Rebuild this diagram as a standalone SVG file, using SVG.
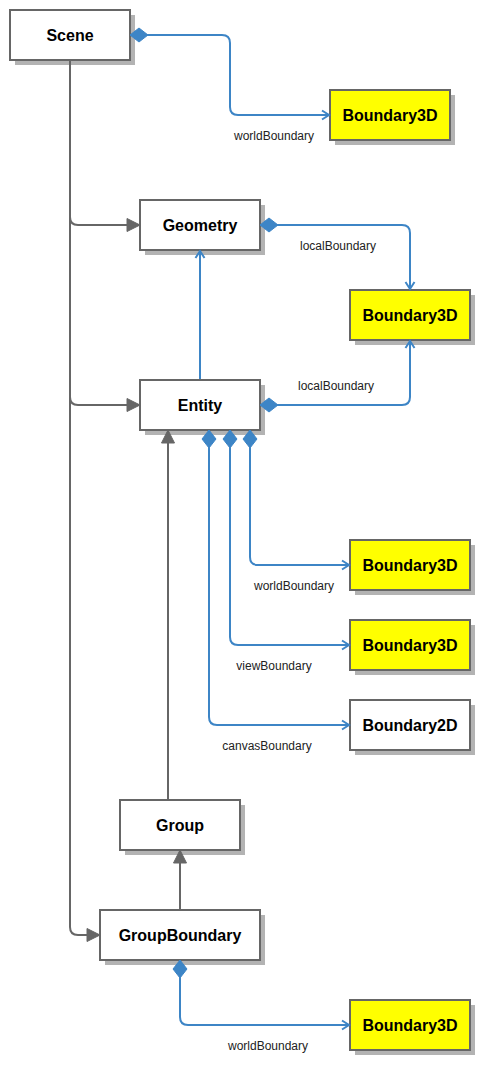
<svg xmlns="http://www.w3.org/2000/svg" width="490" height="1075" viewBox="0 0 490 1075">
<style>
.box{stroke:#666666;stroke-width:2}
.w{fill:#ffffff}
.y{fill:#ffff00}
.sh{fill:#b3b3b3}
.t{font-family:"Liberation Sans",Arial,sans-serif;font-size:16px;font-weight:bold;fill:#000;text-anchor:middle}
.l{font-family:"Liberation Sans",Arial,sans-serif;font-size:12px;fill:#222;text-anchor:middle}
.b{fill:none;stroke:#3d85c6;stroke-width:2}
.g{fill:none;stroke:#666666;stroke-width:2}
.bd{marker-start:url(#dia)}
.bo{marker-end:url(#open)}
.gt{marker-end:url(#tri)}
</style>
<defs>
<marker id="dia" markerUnits="userSpaceOnUse" overflow="visible" markerWidth="20" markerHeight="16" refX="0" refY="0" orient="auto">
<path d="M0,0 L9,-7 L18,0 L9,7 Z" fill="#3d85c6" stroke="#3d85c6" stroke-width="1"/>
</marker>
<marker id="open" markerUnits="userSpaceOnUse" overflow="visible" markerWidth="12" markerHeight="12" refX="0" refY="0" orient="auto">
<path d="M-7,-4.5 L0,0 L-7,4.5" fill="none" stroke="#3d85c6" stroke-width="2"/>
</marker>
<marker id="tri" markerUnits="userSpaceOnUse" overflow="visible" markerWidth="16" markerHeight="16" refX="0" refY="0" orient="auto">
<path d="M-13,-6.5 L0,0 L-13,6.5 Z" fill="#666666" stroke="#666666" stroke-width="1"/>
</marker>
</defs>
<g id="scene"><rect class="sh" x="15" y="15" width="120" height="50"/><rect class="box w" x="10" y="10" width="120" height="50"/><text class="t" x="70" y="41">Scene</text></g>
<g id="b3d-world-scene"><rect class="sh" x="335" y="95" width="120" height="50"/><rect class="box y" x="330" y="90" width="120" height="50"/><text class="t" x="390" y="121">Boundary3D</text></g>
<g id="geometry"><rect class="sh" x="145" y="205" width="120" height="50"/><rect class="box w" x="140" y="200" width="120" height="50"/><text class="t" x="200" y="231">Geometry</text></g>
<g id="b3d-local"><rect class="sh" x="355" y="295" width="120" height="50"/><rect class="box y" x="350" y="290" width="120" height="50"/><text class="t" x="410" y="321">Boundary3D</text></g>
<g id="entity"><rect class="sh" x="145" y="385" width="120" height="50"/><rect class="box w" x="140" y="380" width="120" height="50"/><text class="t" x="200" y="411">Entity</text></g>
<g id="b3d-world-entity"><rect class="sh" x="355" y="545" width="120" height="50"/><rect class="box y" x="350" y="540" width="120" height="50"/><text class="t" x="410" y="571">Boundary3D</text></g>
<g id="b3d-view"><rect class="sh" x="355" y="625" width="120" height="50"/><rect class="box y" x="350" y="620" width="120" height="50"/><text class="t" x="410" y="651">Boundary3D</text></g>
<g id="b2d-canvas"><rect class="sh" x="355" y="705" width="120" height="50"/><rect class="box w" x="350" y="700" width="120" height="50"/><text class="t" x="410" y="731">Boundary2D</text></g>
<g id="group"><rect class="sh" x="125" y="805" width="120" height="50"/><rect class="box w" x="120" y="800" width="120" height="50"/><text class="t" x="180" y="831">Group</text></g>
<g id="groupboundary"><rect class="sh" x="105" y="915" width="160" height="50"/><rect class="box w" x="100" y="910" width="160" height="50"/><text class="t" x="180" y="941">GroupBoundary</text></g>
<g id="b3d-world-group"><rect class="sh" x="355" y="1005" width="120" height="50"/><rect class="box y" x="350" y="1000" width="120" height="50"/><text class="t" x="410" y="1031">Boundary3D</text></g>
<g id="connectors">
<path class="b bd bo" d="M130,35 H222 Q230,35 230,43 V107 Q230,115 238,115 H329"/>
<path class="g" d="M70,61 V927"/>
<path class="g gt" d="M70,217 Q70,225 78,225 H140"/>
<path class="g gt" d="M70,397 Q70,405 78,405 H140"/>
<path class="g gt" d="M70,927 Q70,935 78,935 H100"/>
<path class="b bd bo" d="M260,225 H402 Q410,225 410,233 V289"/>
<path class="b bd bo" d="M260,405 H402 Q410,405 410,397 V341"/>
<path class="b bo" d="M200,379 V251"/>
<path class="b bd bo" d="M250,430 V557 Q250,565 258,565 H349"/>
<path class="b bd bo" d="M230,430 V637 Q230,645 238,645 H349"/>
<path class="b bd bo" d="M209,430 V717 Q209,725 217,725 H349"/>
<path class="g gt" d="M168,799 V430"/>
<path class="g gt" d="M180,909 V850"/>
<path class="b bd bo" d="M180,960 V1017 Q180,1025 188,1025 H349"/>
<text class="l" x="274" y="140">worldBoundary</text>
<text class="l" x="338" y="250">localBoundary</text>
<text class="l" x="336" y="390">localBoundary</text>
<text class="l" x="294" y="590">worldBoundary</text>
<text class="l" x="274" y="670">viewBoundary</text>
<text class="l" x="267" y="750">canvasBoundary</text>
<text class="l" x="268" y="1050">worldBoundary</text>
</g>
</svg>
